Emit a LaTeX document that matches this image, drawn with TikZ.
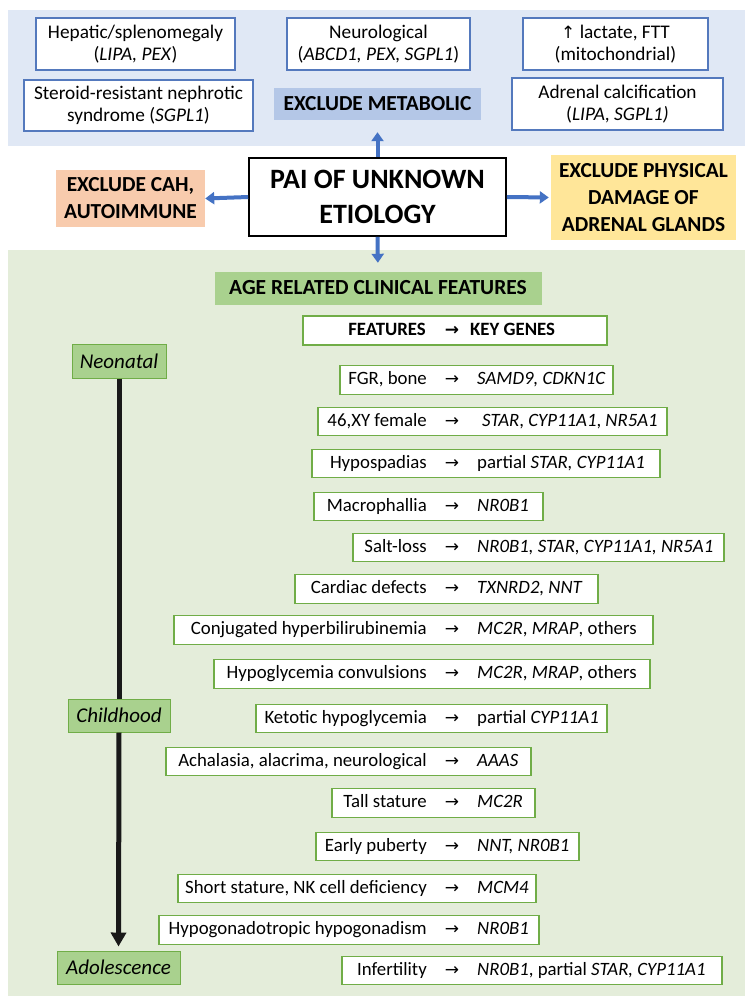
\documentclass[tikz,border=0pt]{standalone}
\usepackage{fontspec}
\setmainfont{Carlito}
\newfontfamily\symf{DejaVu Sans}
\usetikzlibrary{arrows.meta}
\definecolor{bluebg}{HTML}{E0E8F5}
\definecolor{greenbg}{HTML}{E4EDDA}
\definecolor{boxblue}{HTML}{5479BD}
\definecolor{metblue}{HTML}{B4C7E7}
\definecolor{peach}{HTML}{F8CBAD}
\definecolor{yell}{HTML}{FFE699}
\definecolor{lgreen}{HTML}{A9D18E}
\definecolor{dgreen}{HTML}{70AD47}
\definecolor{arrblue}{HTML}{4472C4}
\tikzset{
  topbox/.style={draw=boxblue, line width=1.2pt, fill=white, align=center, inner sep=0pt,
    font=\fontsize{19.3}{22.5}\selectfont},
  hdr/.style={align=center, inner sep=0pt, font=\bfseries\fontsize{21.4}{27}\selectfont},
  conn/.style={draw=arrblue, line width=4pt, -{Triangle[length=9pt,width=12pt]}},
  agebox/.style={fill=lgreen, draw=dgreen, line width=1pt, inner sep=0pt,
    font=\itshape\fontsize{21}{24}\selectfont},
  featbox/.style={draw=dgreen, line width=1.3pt, fill=white, inner sep=0pt, minimum height=28.5pt},
  ftxt/.style={inner sep=0pt, text height=13.5pt, text depth=4pt, font=\fontsize{18.8}{22}\selectfont},
}
\newcommand\frow[6]{%
  \node[featbox, minimum width={(#3-#2)*1pt}] (#1) at ({(#2+#3)/2},#4) {};
  \node[ftxt, anchor=east] (#1f) at (427,#4) {#5};
  \node[ftxt, font=\symf\fontsize{17}{22}\selectfont] (#1a) at (452,#4) {→};
  \node[ftxt, anchor=west] (#1g) at (477,#4) {#6};
}
\begin{document}
\begin{tikzpicture}[x=1pt,y=-1pt]
\useasboundingbox (0,0) rectangle (755,1007);
\fill[white] (0,0) rectangle (755,1007);
% backgrounds
\fill[bluebg] (8,10) rectangle (745,146);
\fill[greenbg] (8,250) rectangle (745,996);
% top boxes
\node[topbox, minimum width=199pt, minimum height=52pt] (hep) at (135.5,44) {Hepatic/splenomegaly\\(\textit{LIPA, PEX})};
\node[topbox, minimum width=229pt, minimum height=51pt] (ster) at (138.5,105.5) {Steroid-resistant nephrotic\\syndrome (\textit{SGPL1})};
\node[topbox, minimum width=183pt, minimum height=52pt] (neu) at (378.5,44) {Neurological\\(\textit{ABCD1, PEX, SGPL1})};
\node[hdr, fill=metblue, minimum width=207pt, minimum height=32pt] (met) at (377.5,104) {EXCLUDE METABOLIC};
\node[topbox, minimum width=185pt, minimum height=52pt] (lac) at (615.5,44) {{\symf\fontsize{17}{20}\selectfont ↑} lactate, FTT\\(mitochondrial)};
\node[topbox, minimum width=211pt, minimum height=52pt] (adr) at (617.5,104) {Adrenal calcification\\(\textit{LIPA}, \textit{SGPL1)}};
% middle
\node[draw=black, line width=1.6pt, fill=white, align=center, inner sep=0pt,
  minimum width=257pt, minimum height=78pt, font=\bfseries\fontsize{28}{35}\selectfont] (pai) at (377.5,197) {PAI OF UNKNOWN\\ETIOLOGY};
\node[hdr, fill=peach, minimum width=149pt, minimum height=57pt] (cah) at (130.5,198.5) {EXCLUDE CAH,\\AUTOIMMUNE};
\node[hdr, fill=yell, minimum width=185pt, minimum height=85pt] (phys) at (643.5,197.5) {EXCLUDE PHYSICAL\\DAMAGE OF\\ADRENAL GLANDS};
\node[hdr, fill=lgreen, draw=lgreen, minimum width=326pt, minimum height=32pt, font=\bfseries\fontsize{21.5}{24}\selectfont] (age) at (378,288) {AGE RELATED CLINICAL FEATURES};
\draw[conn, shorten >=12pt] (pai.north) -- (met.south);
\draw[conn, shorten >=9pt] (pai.south) -- (age.north);
\draw[conn] (pai.west) -- (cah.east);
\draw[conn, shorten >=2pt] (pai.east) -- (phys.west);
% header row
\node[featbox, minimum width=304pt, minimum height=29pt] (head) at (455,330.5) {};
\node[ftxt, anchor=east, font=\bfseries\fontsize{18.8}{22}\selectfont] (headf) at (426,330.5) {FEATURES};
\node[ftxt, font=\symf\bfseries\fontsize{17}{22}\selectfont] (heada) at (452,330.5) {→};
\node[ftxt, anchor=west, font=\bfseries\fontsize{18.8}{22}\selectfont] (headg) at (470,330.5) {KEY GENES};
% timeline
\node[agebox, minimum width=94pt, minimum height=34pt] (neo) at (119,361) {Neonatal};
\node[agebox, minimum width=102pt, minimum height=33pt] (child) at (119,715.5) {Childhood};
\node[agebox, minimum width=123pt, minimum height=33pt] (adol) at (118.5,967.5) {Adolescence};
\draw[line width=5pt, draw=black!90] (neo.south) -- (child.north);
\draw[line width=5pt, draw=black!90, -{Triangle[length=14pt,width=15pt]}, shorten >=4pt] (child.south) -- (adol.north);
% feature rows
\frow{r1}{340}{613}{380}{FGR, bone}{\textit{SAMD9, CDKN1C}}
\frow{r2}{318}{667}{421.5}{46,XY female}{\hspace{5pt}\textit{STAR}, \textit{CYP11A1}, \textit{NR5A1}}
\frow{r3}{312}{660}{463.5}{Hypospadias}{partial \textit{STAR, CYP11A1}}
\frow{r4}{314}{543}{506.5}{Macrophallia}{\textit{NR0B1}}
\frow{r5}{353}{724}{547.5}{Salt-loss}{\textit{NR0B1, STAR, CYP11A1, NR5A1}}
\frow{r6}{295}{598}{589}{Cardiac defects}{\textit{TXNRD2, NNT}}
\frow{r7}{174}{653}{630}{Conjugated hyperbilirubinemia}{\textit{MC2R}, \textit{MRAP}, others}
\frow{r8}{214}{650}{674}{Hypoglycemia convulsions}{\textit{MC2R}, \textit{MRAP}, others}
\frow{r9}{256}{607}{718.5}{Ketotic hypoglycemia}{partial \textit{CYP11A1}}
\frow{r10}{166}{531}{761.5}{Achalasia, alacrima, neurological}{\textit{AAAS}}
\frow{r11}{332}{535}{803}{Tall stature}{\textit{MC2R}}
\frow{r12}{316}{579}{846.5}{Early puberty}{\textit{NNT, NR0B1}}
\frow{r13}{178}{536}{888.5}{Short stature, NK cell deficiency}{\textit{MCM4}}
\frow{r14}{159}{539}{930}{Hypogonadotropic hypogonadism}{\textit{NR0B1}}
\frow{r15}{342}{722}{970.5}{Infertility}{\textit{NR0B1}, partial \textit{STAR, CYP11A1}}
\end{tikzpicture}
\end{document}
